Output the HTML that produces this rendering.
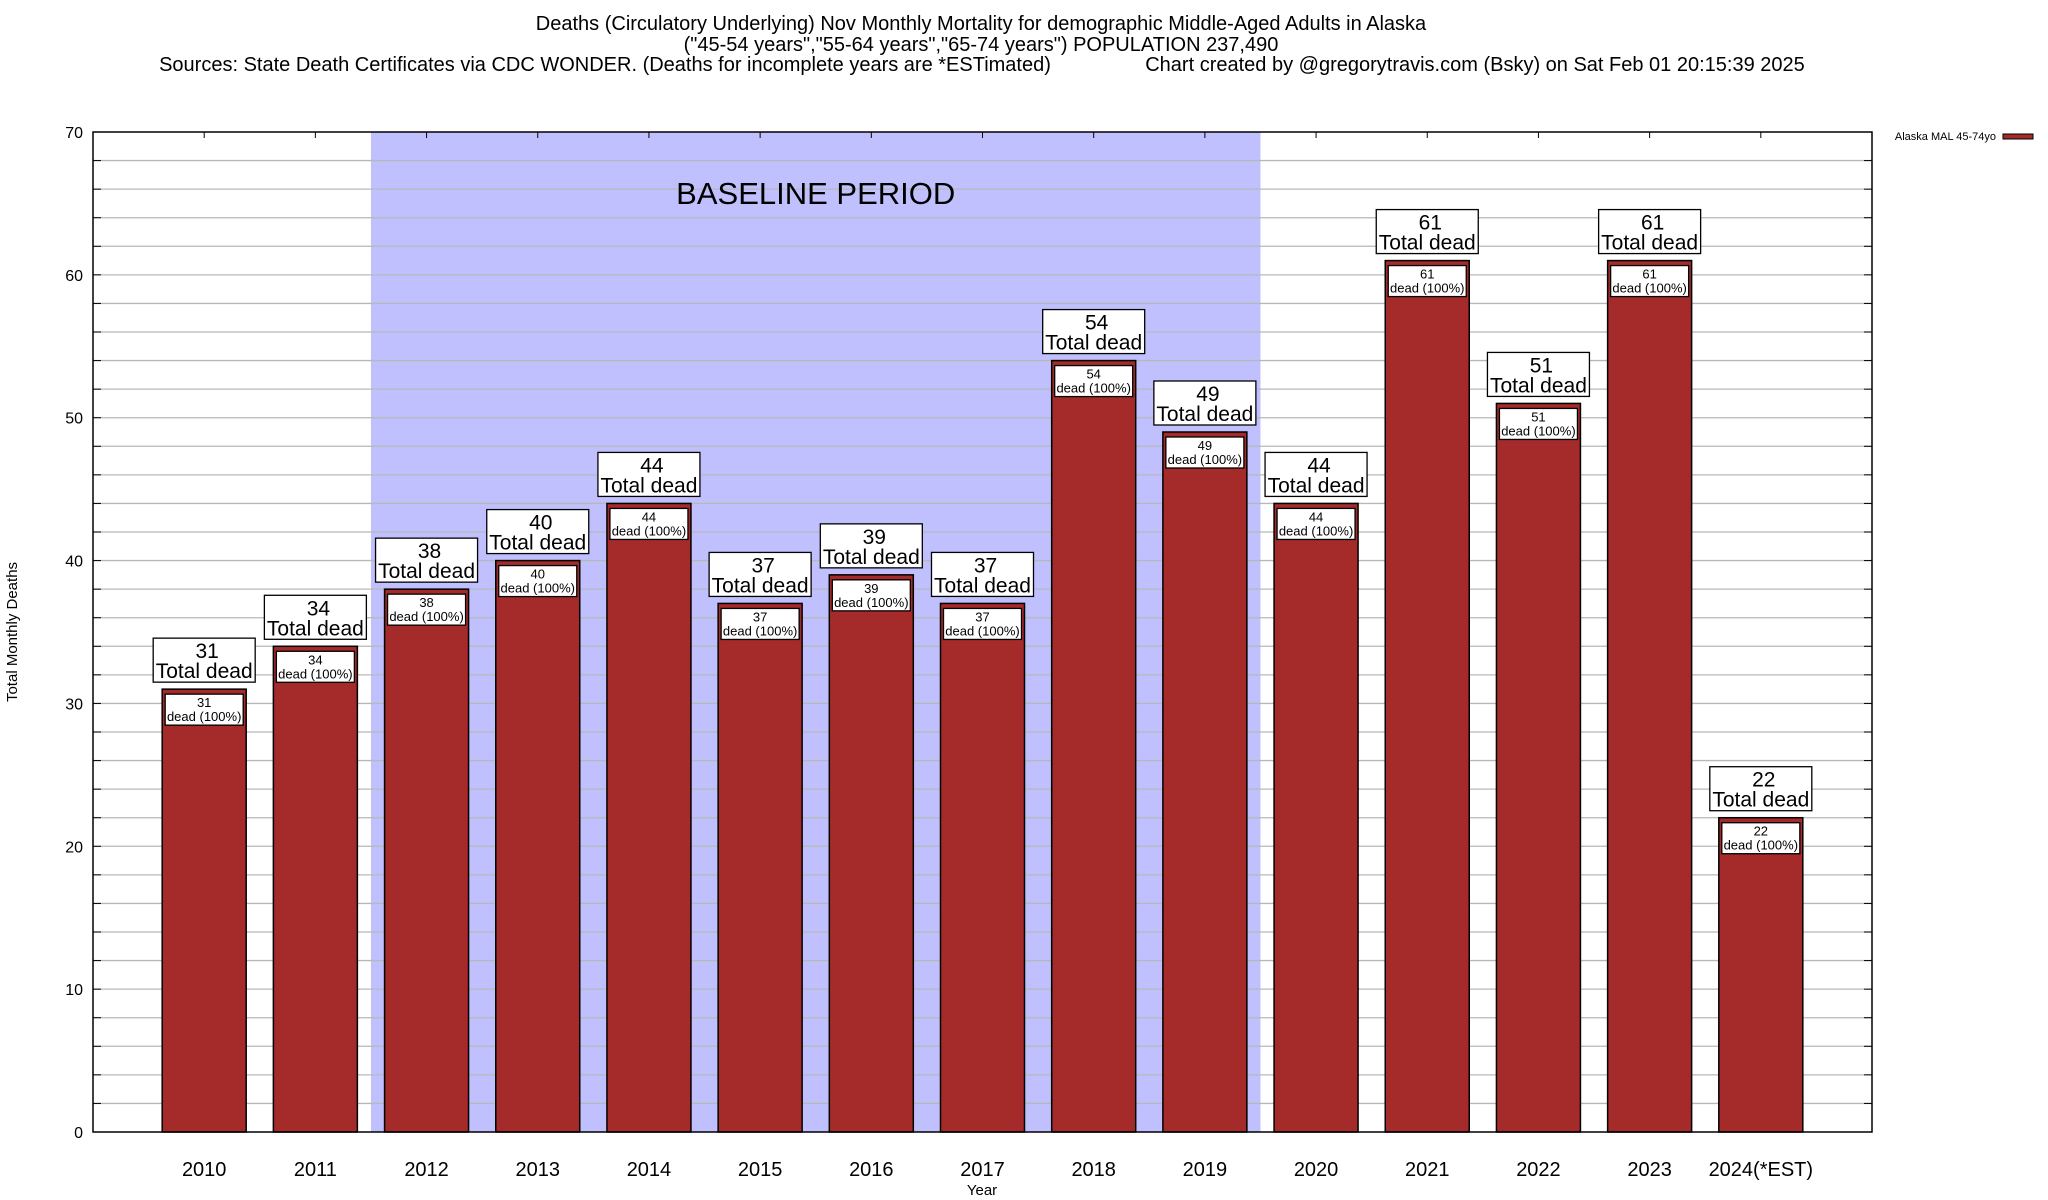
<!DOCTYPE html>
<html><head><meta charset="utf-8"><style>
html,body{margin:0;padding:0;background:#fff;}
svg{display:block;font-family:"Liberation Sans",sans-serif;}
</style></head><body>
<svg id="chart" width="2048" height="1200" viewBox="0 0 2048 1200">
<g font-size="20" text-anchor="middle" fill="#000">
<text x="981" y="30">Deaths (Circulatory Underlying) Nov Monthly Mortality for demographic Middle-Aged Adults in Alaska</text>
<text x="981" y="51">("45-54 years","55-64 years","65-74 years") POPULATION 237,490</text>
<text x="605" y="71">Sources: State Death Certificates via CDC WONDER. (Deaths for incomplete years are *ESTimated)</text>
<text x="1475" y="71">Chart created by @gregorytravis.com (Bsky) on Sat Feb 01 20:15:39 2025</text>
</g>
<g id="plot"></g>
<text x="17" y="632" font-size="15" text-anchor="middle" transform="rotate(-90 17 632)">Total Monthly Deaths</text>
<text x="982" y="1195" font-size="15" text-anchor="middle">Year</text>
<g>
<text x="1996" y="140" font-size="11" text-anchor="end">Alaska MAL 45-74yo</text>
<rect x="2003" y="134" width="30" height="5" fill="#a52a2a" stroke="#000" stroke-width="1"/>
</g>
</svg>
<script>
const categories = ["2010","2011","2012","2013","2014","2015","2016","2017","2018","2019","2020","2021","2022","2023","2024(*EST)"];
const deaths = [31,34,38,40,44,37,39,37,54,49,44,61,51,61,22];
const yTicks = [0,10,20,30,40,50,60,70];
const baselineRange = [1.5, 9.5];

const NS = "http://www.w3.org/2000/svg";
const L = 93, R = 1872, T = 132, B = 1132, YMAX = 70;
const step = (R - L) / (categories.length + 1);
function xScale(i){ return L + (i + 1) * step; }
function yScale(v){ return B - v / YMAX * (B - T); }
const plot = document.getElementById('plot');
function mk(tag, attrs, parent){
  const e = document.createElementNS(NS, tag);
  for (const k in attrs) e.setAttribute(k, attrs[k]);
  (parent || plot).appendChild(e);
  return e;
}

const band = mk('rect', {x: xScale(baselineRange[0]), y: T, width: xScale(baselineRange[1]) - xScale(baselineRange[0]), height: B - T, fill: '#c0c0ff'});



for (let v = 2; v < YMAX; v += 2) {
  const g = mk('line', {x1: L, x2: R, y1: yScale(v), y2: yScale(v), stroke: '#b8b8b8', 'stroke-width': 1.3});
  
  
  const t1 = mk('line', {x1: L, x2: L + 8, y1: yScale(v), y2: yScale(v), stroke: '#000'});
  
  
  const t2 = mk('line', {x1: R - 8, x2: R, y1: yScale(v), y2: yScale(v), stroke: '#000'});
  
  
}
yTicks.forEach(v => {
  const t = mk('text', {x: L - 10, y: yScale(v) + 6, 'font-size': 16, 'text-anchor': 'end'});
  t.textContent = v;
  
  
});

const bl = mk('text', {x: (xScale(baselineRange[0]) + xScale(baselineRange[1])) / 2, y: 204, 'font-size': 31, 'text-anchor': 'middle'});
bl.textContent = 'BASELINE PERIOD';



const bw = 84;
categories.forEach((c, i) => {
  const cx = xScale(i), v = deaths[i], y = yScale(v);
  const tt = mk('line', {x1: cx, x2: cx, y1: T, y2: T + 6, stroke: '#000'});
  
  
  const bar = mk('rect', {x: cx - bw/2, y: y, width: bw, height: B - y, fill: '#a52a2a', stroke: '#000', 'stroke-width': 1.5});
  
  
  const ib = mk('rect', {x: cx - bw/2 + 3, y: y + 5, width: bw - 6, height: 31, fill: '#fff', stroke: '#000', 'stroke-width': 1.3});
  
  
  const it1 = mk('text', {x: cx, y: y + 18, 'font-size': 13, 'text-anchor': 'middle'});
  it1.textContent = v;
  
  
  const it2 = mk('text', {x: cx, y: y + 32, 'font-size': 13, 'text-anchor': 'middle'});
  it2.textContent = 'dead (100%)';
  
  
  const ob = mk('rect', {x: cx - 51, y: y - 51, width: 102, height: 44, fill: '#fff', stroke: '#000', 'stroke-width': 1.3});
  
  
  const ot1 = mk('text', {x: cx + 3, y: y - 31, 'font-size': 21, 'text-anchor': 'middle'});
  ot1.textContent = v;
  
  
  const ot2 = mk('text', {x: cx, y: y - 11, 'font-size': 21, 'text-anchor': 'middle'});
  ot2.textContent = 'Total dead';
  
  
  const xl = mk('text', {x: cx, y: 1176, 'font-size': 20, 'text-anchor': 'middle'});
  xl.textContent = c;
  
  
});

const frame = mk('rect', {x: L, y: T, width: R - L, height: B - T, fill: 'none', stroke: '#000', 'stroke-width': 1.5});


</script>
</body></html>
